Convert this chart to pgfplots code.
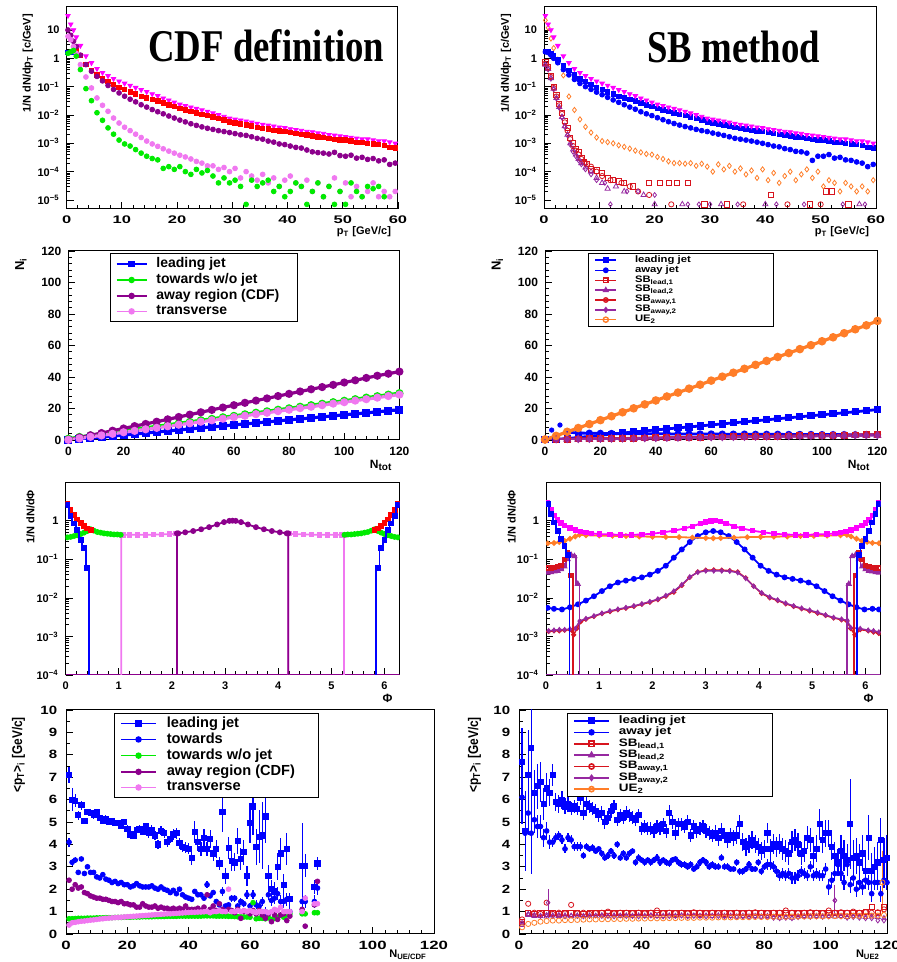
\documentclass[border=0pt]{standalone}
\usepackage{graphicx}
\usepackage{pgfplots}
\pgfplotsset{compat=1.18}
\usepackage{pgfplotstable}
\usepackage{fontspec}
\setmainfont{Liberation Sans}
\newfontfamily\timesf{Liberation Serif}
\newcommand{\tp}[1]{10\textsuperscript{−#1}}
\newcommand{\hs}[2]{\scalebox{#1}[1]{#2}}
\definecolor{cmag}{RGB}{255,0,255}
\definecolor{cred}{RGB}{255,0,0}
\definecolor{cblu}{RGB}{0,0,255}
\definecolor{cgrn}{RGB}{0,235,0}
\definecolor{cpur}{RGB}{140,0,140}
\definecolor{cpnk}{RGB}{240,120,240}
\definecolor{corg}{RGB}{255,125,40}
\definecolor{csbr}{RGB}{215,20,30}
\definecolor{csbp}{RGB}{150,40,160}
\pgfplotsset{rt/.style={scale only axis, anchor=south west,
  axis line style={black,line width=0.5pt}, tick align=inside, tick pos=left,
  major tick length=3.5pt, minor tick length=1.8pt,
  every tick/.append style={black,line width=0.35pt},
  /pgf/number format/assume math mode=true,
  tick label style={font=\fontsize{5.5}{6}\selectfont\bfseries},
  every axis x label/.style={at={(rel axis cs:1,0)}, anchor=north east, font=\fontsize{5.5}{6}\selectfont\bfseries},
  every axis y label/.style={at={(rel axis cs:-0.08,1)}, anchor=south east, rotate=90, font=\fontsize{5.5}{6}\selectfont\bfseries},
  legend cell align=left,
}}

\pgfplotstableread{
x mag red pur pnk grn blu
0.25 32 nan 10 6 1.5 1.65
0.75 16 nan 6.5 4.5 1.7 1.65
1.25 10 nan 4.0 2.6 1.9 1.6
1.75 5.6 1.9 2.6 1.5 1.2 nan
2.5 2.8 1.3 1.3 0.6 0.4 nan
3.5 1.2 0.62 0.6 0.22 0.085 nan
4.5 0.69 0.38 0.35 0.09 0.032 nan
5.5 0.43 0.26 0.23 0.04 0.012 nan
6.5 0.31 0.19 0.16 0.022 0.0065 nan
7.5 0.24 0.15 0.11 0.0135 0.0035 nan
8.5 0.19 0.12 0.08 0.0078 0.0021 nan
9.5 0.155 0.095 0.06 0.0052 0.0013 nan
10.5 0.13 0.08 0.046 0.0037 0.00095 nan
11.5 0.11 0.066 0.036 0.0028 0.0008 nan
12.5 0.092 0.055 0.029 0.0021 0.0006 nan
13.5 0.077 0.046 0.023 0.0016 0.00045 nan
14.5 0.066 0.04 0.019 0.0012 0.00035 nan
15.5 0.055 0.035 0.0155 0.00095 0.00029 nan
16.5 0.047 0.031 0.013 0.00078 0.00026 nan
17.5 0.039 0.027 0.011 0.00064 0.00013 nan
18.5 0.033 0.023 0.0092 0.00053 0.00015 nan
19.5 0.028 0.02 0.0078 0.00045 0.00012 nan
20.5 0.0236 0.017 0.0066 0.00038 0.00015 nan
21.5 0.021 0.015 0.0057 0.00033 0.0001 nan
22.5 0.0187 0.0135 0.0049 0.00028 0.00008 nan
23.5 0.0167 0.012 0.0043 0.00023 0.00012 nan
24.5 0.0149 0.0107 0.0038 0.0002 0.00009 nan
25.5 0.0133 0.0097 0.0034 0.00016 0.00011 nan
26.5 0.0116 0.0086 0.0031 0.00016 0.00007 nan
27.5 0.0101 0.0076 0.0028 0.00012 0.00004 nan
28.5 0.0088 0.0066 0.0026 0.00014 0.00006 nan
29.5 0.0076 0.0057 0.0024 0.0001 0.00004 nan
30.5 0.007 0.0052 0.0022 0.00013 0.00005 nan
31.5 0.0065 0.0048 0.002 0.00006 0.00003 nan
32.5 0.006 0.0044 0.0019 0.0001 0.000007 nan
33.5 0.0055 0.0041 0.0017 0.00007 0.00005 nan
34.5 0.005 0.0037 0.0015 0.00005 0.00003 nan
35.5 0.0046 0.0034 0.0014 0.00008 0.00004 nan
36.5 0.0043 0.0032 0.0012 0.00004 0.00005 nan
37.5 0.004 0.0029 0.0011 0.00006 0.00002 nan
38.5 0.0037 0.0027 0.00095 0.00003 0.00003 nan
39.5 0.0035 0.0026 0.0009 0.00005 0.000013 nan
40.5 0.0032 0.0024 0.0008 0.00007 0.00002 nan
41.5 0.003 0.0022 0.00072 0.00004 0.00004 nan
42.5 0.0028 0.0021 0.00068 0.00003 0.00003 nan
43.5 0.0026 0.002 0.00058 0.00005 0.000007 nan
44.5 0.0025 0.0018 0.0005 0.00002 0.00002 nan
45.5 0.0023 0.0017 0.00047 0.00004 0.00004 nan
46.5 0.0022 0.0016 0.00045 0.000013 0.000013 nan
47.5 0.002 0.0015 0.00042 0.00003 0.00003 nan
48.5 0.0019 0.0014 0.00048 0.00006 0.000007 nan
49.5 0.0018 0.0013 0.00037 0.00002 0.00002 nan
50.5 0.0017 0.0013 0.00035 0.00004 0.000007 nan
51.5 0.0016 0.0012 0.00038 0.000013 0.00004 nan
52.5 0.0015 0.0011 0.0003 0.00003 0.00002 nan
53.5 0.0014 0.0011 0.00032 0.000013 0.000013 nan
54.5 0.0014 0.001 0.00027 0.00002 0.00003 nan
55.5 0.0013 0.00095 0.00029 0.00004 0.000025 nan
56.5 0.0012 0.0009 0.00024 0.000013 0.00003 nan
57.5 0.0012 0.00085 0.00026 0.00002 0.000013 nan
58.5 0.0011 0.0007 0.00018 0.000013 nan nan
59.5 0.001 0.00068 0.0002 0.00002 nan nan
}\Pone

\pgfplotstableread{
x mag bla blb org
0.25 32 1.75 1.7 22
0.75 16 1.8 1.6 12
1.25 10 1.5 1.3 5
1.75 5.6 1.2 1.0 2.3
2.5 2.8 0.9 0.7 0.9
3.5 1.2 0.55 0.4 0.25
4.5 0.69 0.37 0.26 0.045
5.5 0.43 0.26 0.18 0.015
6.5 0.31 0.19 0.13 0.007
7.5 0.24 0.15 0.1 0.0038
8.5 0.19 0.12 0.08 0.0024
9.5 0.155 0.095 0.064 0.0016
10.5 0.13 0.08 0.052 0.0012
11.5 0.11 0.066 0.042 0.0011
12.5 0.092 0.055 0.034 0.001
13.5 0.077 0.046 0.028 0.00085
14.5 0.066 0.04 0.023 0.00075
15.5 0.055 0.035 0.019 0.00065
16.5 0.047 0.031 0.016 0.00055
17.5 0.039 0.027 0.013 0.00048
18.5 0.033 0.023 0.011 0.00042
19.5 0.028 0.02 0.0095 0.0004
20.5 0.0236 0.017 0.008 0.00033
21.5 0.021 0.015 0.0068 0.00028
22.5 0.0187 0.0135 0.0058 0.00023
23.5 0.0167 0.012 0.005 0.0002
24.5 0.0149 0.0107 0.0044 0.0002
25.5 0.0133 0.0097 0.0039 0.00019
26.5 0.0116 0.0086 0.0035 0.0002
27.5 0.0101 0.0076 0.0031 0.00016
28.5 0.0088 0.0066 0.0028 0.00019
29.5 0.0076 0.0057 0.0026 0.00015
30.5 0.007 0.0052 0.0023 0.0001
31.5 0.0065 0.0048 0.0021 0.00018
32.5 0.006 0.0044 0.0019 0.00012
33.5 0.0055 0.0041 0.0017 0.00016
34.5 0.005 0.0037 0.0015 0.0001
35.5 0.0046 0.0034 0.0014 0.00013
36.5 0.0043 0.0032 0.0013 0.00008
37.5 0.004 0.0029 0.0012 0.00011
38.5 0.0037 0.0027 0.0011 0.00006
39.5 0.0035 0.0026 0.001 0.00012
40.5 0.0032 0.0024 0.0009 0.00005
41.5 0.003 0.0022 0.0008 0.00009
42.5 0.0028 0.0021 0.00075 0.00004
43.5 0.0026 0.002 0.00065 0.00007
44.5 0.0025 0.0018 0.0006 0.0001
45.5 0.0023 0.0017 0.00052 0.00005
46.5 0.0022 0.0016 0.0005 0.00008
47.5 0.002 0.0015 0.00045 0.00012
48.5 0.0019 0.0014 0.00025 0.00006
49.5 0.0018 0.0013 0.00035 0.0001
50.5 0.0017 0.0013 0.00035 0.00003
51.5 0.0016 0.0012 0.0004 0.00005
52.5 0.0015 0.0011 0.0003 0.00004
53.5 0.0014 0.0011 0.00032 0.00002
54.5 0.0014 0.001 0.00026 0.00004
55.5 0.0013 0.00095 0.00025 0.00003
56.5 0.0012 0.0009 0.00022 0.00002
57.5 0.0012 0.00085 0.0002 0.00003
58.5 0.0011 0.0007 0.00015 0.00002
59.5 0.001 0.00068 0.00018 0.00005
}\Ptwo

\pgfplotstableread{
x y
0.25 0.72
0.75 0.5
1.25 0.24
1.75 0.1
2.25 0.05
2.75 0.024
3.25 0.012
3.75 0.0062
4.25 0.0034
4.75 0.0016
5.25 0.001
5.75 0.00065
6.25 0.00048
6.75 0.0003
7.25 0.00022
7.75 0.00019
8.5 0.00012
9.5 0.00011
10.5 0.00009
11.5 0.00006
12.5 0.00005
13.5 0.000045
14.5 0.00004
16 0.00003
19 0.00004
21 0.00004
22.5 0.00004
24 0.00004
26 0.00004
29 0.000007
33 0.000007
41 0.000015
48 0.000007
51 0.00002
52 0.00002
55 0.000007
}\SBa
\pgfplotstableread{
x y
0.25 0.6
0.75 0.42
1.25 0.2
1.75 0.085
2.25 0.04
2.75 0.019
3.25 0.0085
3.75 0.004
4.25 0.002
4.75 0.001
5.25 0.0006
5.75 0.0004
6.25 0.00028
6.75 0.0002
7.5 0.00014
8.5 0.0001
9.5 0.00006
10.5 0.00004
11.5 0.000025
13 0.00003
14.5 0.00002
18 0.000015
20 0.000007
25 0.000007
32 0.000007
40 0.000007
57 0.000007
}\SBb
\pgfplotstableread{
x y
0.25 0.65
0.75 0.45
1.25 0.22
1.75 0.09
2.25 0.045
2.75 0.022
3.25 0.011
3.75 0.0055
4.25 0.0028
4.75 0.0014
5.25 0.0008
5.75 0.00055
6.25 0.0004
6.75 0.00028
7.5 0.0002
8.5 0.00015
9.5 0.0001
10.5 0.00007
12 0.00005
14 0.00004
15.5 0.00003
17 0.00002
19 0.000015
23 0.000007
36 0.000007
44 0.000007
50 0.000007
}\SBc
\pgfplotstableread{
x y
0.25 0.58
0.75 0.4
1.25 0.19
1.75 0.08
2.25 0.038
2.75 0.018
3.25 0.008
3.75 0.0038
4.25 0.0019
4.75 0.0009
5.25 0.0005
5.75 0.00035
6.25 0.00025
6.75 0.00018
7.5 0.00012
8.5 0.00008
9.5 0.00005
11 0.00004
12 0.000007
15 0.00002
17 0.00002
20 0.000015
26 0.000007
28 0.000007
30 0.000007
35 0.000007
42 0.000007
47 0.000007
54 0.000007
58 0.000007
}\SBd

\pgfplotstableread{
x blu grn pur pnk
0 0.1 0.8 0.2 0.1
4 0.6 1.9 1.6 1.0
8 1.2 2.9 3.0 2.0
12 1.8 3.9 4.4 2.9
16 2.5 4.8 5.9 3.9
20 3.1 5.8 7.3 4.9
24 3.8 6.8 8.8 5.8
28 4.4 7.7 10.2 6.8
32 5.1 8.7 11.6 7.7
36 5.7 9.6 13.1 8.7
40 6.4 10.6 14.6 9.7
44 7.0 11.5 16.1 10.6
48 7.7 12.5 17.6 11.6
52 8.3 13.4 19.1 12.5
56 8.9 14.4 20.6 13.5
60 9.6 15.3 22.1 14.5
64 10.2 16.3 23.6 15.4
68 10.8 17.3 25.0 16.4
72 11.5 18.2 26.4 17.3
76 12.1 19.2 27.9 18.3
80 12.8 20.1 29.3 19.2
84 13.4 21.1 30.8 20.2
88 14.0 22.1 32.2 21.1
92 14.7 23.0 33.6 22.1
96 15.3 24.0 35.0 23.1
100 16.0 24.9 36.5 24.0
104 16.6 25.9 37.9 25.0
108 17.2 26.9 39.4 25.9
112 17.9 27.8 40.8 26.9
116 18.6 28.8 42.1 27.9
120 19.2 29.7 43.4 28.8
}\Pthree

\pgfplotstableread{
x lj aj sa sb sc sd ue
0 0.1 nan 0.2 0.15 0.25 0.2 0.3
4 0.4 nan 0.45 0.35 0.5 0.4 2.6
8 0.9 5.0 0.55 0.45 0.6 0.5 5.2
12 1.6 4.4 0.65 0.55 0.7 0.55 7.6
16 2.3 4.3 0.75 0.6 0.8 0.65 10.1
20 3.0 4.2 0.85 0.7 0.9 0.75 12.6
24 3.7 4.1 0.95 0.8 1.0 0.8 15.1
28 4.4 4.0 1.05 0.9 1.1 0.9 17.6
32 5.1 4.0 1.15 1.0 1.2 1.0 20.1
36 5.7 3.9 1.25 1.05 1.3 1.1 22.6
40 6.4 3.9 1.35 1.15 1.4 1.2 25.1
44 7.0 3.9 1.45 1.25 1.5 1.3 27.6
48 7.7 3.8 1.55 1.35 1.6 1.4 30.1
52 8.3 3.8 1.65 1.45 1.7 1.5 32.6
56 8.9 3.8 1.75 1.55 1.8 1.6 35.1
60 9.6 3.8 1.85 1.6 1.9 1.7 37.7
64 10.2 3.7 1.95 1.7 2.0 1.8 40.2
68 10.9 3.7 2.05 1.8 2.1 1.9 42.7
72 11.5 3.7 2.15 1.9 2.2 1.95 45.2
76 12.2 3.6 2.25 2.0 2.3 2.05 47.7
80 12.8 3.6 2.35 2.1 2.4 2.15 50.2
84 13.5 3.6 2.45 2.2 2.5 2.25 52.7
88 14.1 3.5 2.55 2.3 2.6 2.35 55.2
92 14.7 3.5 2.65 2.35 2.7 2.4 57.7
96 15.4 3.5 2.75 2.45 2.8 2.5 60.2
100 16.0 3.4 2.85 2.55 2.9 2.6 62.7
104 16.6 3.4 2.95 2.65 3.0 2.7 65.2
108 17.3 3.4 3.05 2.75 3.1 2.8 67.8
112 17.9 3.3 3.15 2.85 3.2 2.9 70.3
116 18.6 3.3 3.25 2.95 3.3 3.0 72.8
120 19.3 3.3 3.35 3.05 3.4 3.1 75.6
}\Pfour

\pgfplotstableread{
x lj elj tw etw gr aw tr
1 7.1 0.35 4.1 0.2 0.68 2.4 0.4
2 6.0 0.5 3.2 0.15 0.68 2.0 0.5
3 5.95 0.3 3.3 0.12 0.69 2.2 0.52
4 5.3 0.2 2.75 0.1 0.7 2.05 0.55
5 5.75 0.2 3.35 0.1 0.7 2.1 0.57
6 5.05 0.15 2.7 0.08 0.7 1.85 0.58
7 5.45 0.15 3.0 0.08 0.71 1.8 0.6
8 5.4 0.15 2.75 0.07 0.71 1.7 0.62
9 5.3 0.15 2.75 0.07 0.71 1.65 0.63
10 5.45 0.15 2.55 0.07 0.72 1.6 0.65
11 5.2 0.15 2.5 0.07 0.72 1.6 0.67
12 5.05 0.15 2.65 0.07 0.72 1.55 0.68
13 5.15 0.15 2.45 0.07 0.73 1.55 0.7
14 5.0 0.15 2.4 0.07 0.73 1.5 0.71
15 5.05 0.15 2.3 0.07 0.73 1.45 0.72
16 4.95 0.15 2.35 0.07 0.74 1.45 0.73
17 4.95 0.15 2.25 0.07 0.74 1.4 0.74
18 4.85 0.15 2.3 0.07 0.74 1.45 0.75
19 5.0 0.15 2.2 0.07 0.75 1.35 0.76
20 4.7 0.15 2.2 0.07 0.75 1.35 0.77
21 4.45 0.15 2.1 0.07 0.75 1.3 0.78
22 4.4 0.15 2.15 0.07 0.76 1.3 0.79
23 4.65 0.15 2.25 0.07 0.76 1.2 0.8
24 4.7 0.15 2.15 0.07 0.76 1.2 0.81
25 4.55 0.15 2.1 0.07 0.77 1.35 0.82
26 4.8 0.15 2.1 0.07 0.77 1.25 0.83
27 4.5 0.2 2.1 0.07 0.77 1.2 0.84
28 4.65 0.2 2.15 0.07 0.77 1.2 0.85
29 4.4 0.2 2.05 0.07 0.78 1.25 0.86
30 4.0 0.2 2.0 0.07 0.78 1.15 0.87
31 4.6 0.2 2.1 0.07 0.78 1.2 0.88
32 4.5 0.2 2.0 0.07 0.78 1.15 0.89
33 4.1 0.2 1.95 0.07 0.79 1.15 0.9
34 4.25 0.2 1.85 0.07 0.79 1.1 0.9
35 4.45 0.25 1.95 0.07 0.79 1.15 0.91
36 4.5 0.25 1.8 0.07 0.79 1.1 0.92
37 4.05 0.25 2.0 0.08 0.8 1.15 0.93
38 3.9 0.25 1.75 0.08 0.8 1.1 0.94
39 3.85 0.25 1.65 0.08 0.8 1.25 0.95
40 3.8 0.25 1.6 0.08 0.8 1.1 0.96
41 3.4 0.3 1.55 0.08 0.8 1.1 0.97
42 4.55 0.5 1.9 0.1 0.8 1.1 0.97
43 4.1 0.4 1.75 0.1 0.8 1.15 0.98
44 3.8 0.3 1.75 0.1 0.8 1.05 0.98
45 4.3 0.4 1.6 0.1 0.81 1.2 0.99
46 3.8 0.3 2.2 0.15 0.81 1.75 1.0
47 4.25 0.4 1.7 0.1 0.81 1.1 0.95
48 3.6 0.35 1.85 0.12 0.81 1.25 1.0
49 3.8 0.4 1.45 0.1 0.8 1.05 1.0
50 3.15 0.3 1.3 0.1 0.8 1.35 1.05
51 5.45 0.9 1.9 0.2 0.8 1.1 1.0
52 2.6 0.35 1.25 0.1 0.8 1.0 1.0
53 3.85 0.5 1.3 0.15 0.79 1.1 2.0
54 3.25 0.45 1.6 0.15 0.79 1.05 1.0
55 3.2 0.4 1.6 0.15 0.78 0.95 1.0
56 4.15 0.6 1.25 0.15 0.77 1.1 1.05
57 3.35 0.5 1.45 0.15 0.77 0.7 1.0
58 3.65 0.55 1.35 0.15 0.76 1.0 1.05
59 2.6 0.45 1.75 0.2 0.76 1.0 1.0
60 4.95 0.9 1.25 0.15 0.75 0.9 1.05
61 5.7 1.3 1.75 0.2 1.4 1.05 1.0
62 3.9 0.8 1.3 0.2 0.68 0.9 0.95
63 4.35 1.2 1.25 0.2 0.7 1.05 1.0
64 4.4 1.5 1.45 0.2 0.7 0.85 1.0
65 5.25 1.2 1.0 0.2 0.68 0.7 1.0
66 2.6 0.5 1.75 0.25 0.72 0.9 0.95
67 2.0 0.4 1.5 0.25 0.65 0.55 1.0
68 1.9 0.4 1.6 0.25 0.7 0.85 1.1
69 3.0 0.6 1.8 0.3 0.75 0.65 1.05
70 3.6 0.7 1.45 0.3 0.85 0.85 1.2
71 2.2 0.5 1.45 0.3 0.75 0.9 1.0
72 3.8 0.7 1.55 0.3 0.85 0.6 1.0
73 1.55 0.3 1.0 0.3 0.9 0.8 1.0
77 3.05 1.9 1.45 0.3 0.9 1.1 1.0
78 3.05 0.5 1.45 0.3 0.9 0.35 1.6
81 2.1 0.3 1.45 0.3 0.95 1.3 1.35
82 3.15 0.3 2.05 0.3 0.95 2.35 1.35
}\Pseven

\pgfplotstableread{
x lj elj aj eaj
1 7.7 1.5 6.1 1.2
2 4.6 1.8 4.5 1.0
3 7.1 2.0 5.4 1.0
4 8.3 2.2 4.5 1.8
5 6.3 1.0 5.1 0.6
6 6.6 1.0 4.8 0.5
7 6.8 0.9 4.8 0.5
8 5.8 0.7 4.3 0.4
9 6.5 0.7 4.6 0.4
10 6.3 0.6 4.1 0.3
11 7.1 0.5 4.1 0.2
12 5.9 0.4 4.3 0.2
13 5.8 0.4 4.4 0.2
14 6.0 0.4 4.2 0.2
15 5.7 0.35 3.8 0.2
16 5.8 0.35 4.3 0.2
17 5.6 0.3 4.2 0.2
18 5.7 0.3 3.9 0.2
19 5.6 0.3 3.9 0.2
20 6.1 0.35 3.9 0.2
21 5.4 0.3 3.5 0.15
22 5.8 0.3 3.9 0.15
23 5.7 0.3 3.8 0.15
24 5.6 0.3 3.85 0.15
25 5.5 0.3 3.7 0.15
26 5.3 0.3 3.8 0.15
27 5.4 0.3 3.6 0.15
28 5.0 0.3 3.4 0.15
29 5.2 0.3 3.5 0.15
30 5.5 0.3 3.7 0.15
31 5.7 0.3 3.5 0.15
32 5.1 0.3 4.0 0.15
33 5.3 0.3 3.4 0.15
34 5.2 0.3 3.6 0.15
35 5.4 0.3 3.4 0.15
36 5.3 0.3 3.6 0.15
37 5.2 0.3 3.7 0.15
38 5.1 0.3 3.2 0.15
39 5.3 0.3 3.4 0.15
40 4.7 0.3 3.3 0.15
41 4.8 0.3 3.2 0.15
42 4.7 0.3 3.3 0.15
43 4.7 0.3 3.2 0.15
44 4.6 0.3 3.3 0.15
45 4.8 0.3 3.4 0.15
46 4.7 0.3 3.2 0.15
47 4.9 0.3 3.3 0.15
48 4.6 0.3 3.2 0.15
49 5.4 0.35 3.15 0.15
50 5.0 0.3 3.3 0.15
51 4.5 0.3 3.35 0.15
52 4.9 0.3 3.2 0.15
53 4.9 0.3 3.1 0.15
54 4.8 0.3 3.1 0.15
55 5.0 0.3 3.0 0.15
56 4.4 0.3 3.1 0.15
57 4.8 0.3 2.9 0.15
58 4.6 0.3 3.0 0.15
59 4.7 0.3 3.2 0.15
60 4.8 0.3 3.3 0.15
61 4.6 0.3 3.2 0.15
62 4.5 0.3 3.0 0.15
63 4.4 0.3 3.1 0.15
64 4.5 0.35 3.0 0.15
65 4.3 0.35 3.0 0.15
66 4.6 0.35 3.4 0.15
67 4.4 0.35 3.0 0.15
68 4.2 0.35 3.0 0.15
69 4.4 0.35 2.9 0.15
70 4.3 0.35 2.9 0.15
71 4.4 0.4 3.2 0.15
72 4.9 0.4 2.8 0.15
73 4.1 0.4 2.8 0.15
74 3.9 0.4 2.9 0.15
75 4.0 0.4 3.1 0.15
76 4.2 0.4 2.9 0.15
77 4.0 0.4 2.9 0.15
78 3.9 0.4 3.2 0.15
79 3.7 0.4 2.8 0.15
80 3.8 0.4 3.0 0.15
81 4.5 0.45 3.1 0.25
82 3.8 0.45 3.1 0.25
83 4.0 0.45 3.0 0.25
84 3.9 0.45 2.8 0.25
85 4.0 0.45 2.6 0.25
86 3.8 0.5 2.7 0.25
87 3.7 0.5 2.6 0.25
88 3.6 0.5 2.7 0.25
89 4.1 0.5 2.5 0.25
90 4.2 0.5 2.5 0.25
91 4.0 0.5 2.6 0.25
92 3.6 0.5 2.8 0.25
93 3.7 0.5 2.7 0.25
94 4.3 0.5 2.6 0.25
95 4.2 0.55 3.0 0.25
96 3.5 0.55 2.6 0.25
97 3.8 0.6 2.7 0.25
98 4.9 0.7 2.6 0.25
99 4.2 0.6 2.6 0.25
100 4.5 0.6 2.9 0.25
101 4.5 0.6 2.1 0.35
102 3.9 0.6 2.4 0.35
103 3.5 0.6 2.7 0.35
104 3.2 0.6 3.1 0.35
105 3.7 0.7 2.7 0.35
106 3.5 0.7 2.3 0.35
107 3.3 0.7 3.1 0.35
108 4.9 2.0 2.2 0.35
109 3.4 0.8 2.5 0.35
110 3.5 0.8 2.0 0.35
111 3.2 0.8 2.3 0.35
112 3.6 0.8 2.1 0.35
113 2.8 0.8 2.4 0.35
114 4.3 1.0 2.3 0.35
115 2.8 0.8 1.8 0.35
116 3.0 0.9 2.3 0.35
117 3.2 0.9 2.3 0.35
118 4.2 1.0 1.8 0.35
119 3.3 1.0 2.4 0.35
120 3.4 1.0 2.3 0.35
}\Peight

\pgfplotstableread{
x sa sb sc sd ue
1 0.55 0.4 0.65 0.5 0.3
3 0.95 0.85 1.35 0.9 0.45
5 0.9 0.8 0.95 0.85 0.5
7 0.95 0.8 0.9 0.8 0.55
9 0.92 0.78 1.4 0.85 0.58
11 0.95 0.82 0.9 0.8 0.6
13 0.9 0.8 0.95 0.85 0.6
15 0.95 0.82 0.92 0.78 0.62
17 0.92 0.8 1.3 0.82 0.62
19 0.95 0.82 0.92 0.8 0.63
21 0.9 0.8 0.95 0.78 0.64
23 0.93 0.82 0.9 0.8 0.65
25 0.95 0.8 0.93 0.82 0.65
27 0.92 0.83 0.95 0.8 0.66
29 0.95 0.8 1.0 0.8 0.66
31 0.93 0.82 0.92 0.78 0.67
33 0.95 0.8 0.95 0.82 0.67
35 0.92 0.82 0.95 0.8 0.68
37 0.95 0.8 0.93 0.8 0.68
39 0.93 0.82 0.95 0.78 0.69
41 0.95 0.8 0.92 0.8 0.69
43 0.92 0.82 0.95 0.82 0.7
45 0.95 0.8 1.05 0.8 0.7
47 0.93 0.8 0.93 0.78 0.7
49 0.95 0.82 0.95 0.8 0.71
51 0.92 0.8 0.93 0.8 0.71
53 0.95 0.82 0.95 0.82 0.72
55 0.93 0.8 0.92 0.78 0.72
57 0.95 0.82 0.97 0.8 0.72
59 0.92 0.8 0.95 0.8 0.73
61 0.95 0.82 0.93 0.78 0.73
63 0.93 0.8 0.95 0.8 0.73
65 0.95 0.82 0.93 0.8 0.74
67 0.92 0.8 0.95 0.78 0.74
69 0.95 0.8 0.93 0.8 0.74
71 0.93 0.78 0.95 0.76 0.75
73 0.95 0.8 0.93 0.78 0.75
75 0.92 0.78 0.95 0.75 0.75
77 0.95 0.8 0.97 0.78 0.76
79 0.93 0.78 0.95 0.76 0.76
81 0.95 0.8 0.93 0.75 0.76
83 0.92 0.75 0.95 0.72 0.77
85 0.95 0.72 0.95 0.7 0.77
87 0.93 0.75 1.05 0.72 0.77
89 0.95 0.72 0.95 0.7 0.78
91 0.92 0.78 0.93 0.75 0.78
93 0.95 0.8 0.95 0.78 0.78
95 0.93 0.78 0.97 0.76 0.79
97 0.95 0.8 0.95 0.78 0.79
99 0.93 0.78 0.93 0.76 0.79
101 0.95 0.8 1.05 0.78 0.8
103 0.93 0.78 0.95 1.5 0.8
105 0.95 0.8 0.97 0.78 0.8
107 0.92 0.75 0.95 0.72 0.8
109 0.95 0.8 1.0 0.75 0.81
111 0.93 0.78 0.95 0.72 0.81
113 1.0 0.75 0.97 0.7 0.81
115 1.2 0.78 0.95 0.7 0.82
117 0.95 0.75 0.97 0.6 0.82
119 1.2 0.7 1.1 0.6 0.85
}\PeightSB

\begin{document}
\begin{tikzpicture}
\path[use as bounding box] (0,0) rectangle (448.5pt,481pt);

% ---------- Panel 1 ----------
\begin{axis}[rt, at={(33.3pt,376.5pt)}, width=165.7pt, height=101pt,
  xmin=0, xmax=60, ymode=log, ymin=4.8e-6, ymax=65,
  xtick={0,10,...,60}, minor x tick num=4,
  ytick={1e-5,1e-4,1e-3,1e-2,1e-1,1,10},
  yticklabels={\tp{5},\tp{4},\tp{3},\tp{2},\tp{1},1,10},
  xticklabel style={xscale=1.5},
  xlabel={p\textsubscript{T} [GeV/c]}, xlabel style={yshift=-5pt},
  ylabel={1/N dN/dp\textsubscript{T} [c/GeV]}, ylabel style={at={(rel axis cs:-0.08,1)}}]
\addplot[only marks, cmag, mark=triangle*, mark size=1.3pt, mark options={rotate=180}] table[x=x,y=mag]{\Pone};
\addplot[only marks, cblu, mark=square*, mark size=1.1pt] table[x=x,y=blu]{\Pone};
\addplot[only marks, cred, mark=square*, mark size=1.1pt] table[x=x,y=red]{\Pone};
\addplot[only marks, cpur, mark=*, mark size=1.2pt] table[x=x,y=pur]{\Pone};
\addplot[only marks, cpnk, mark=*, mark size=1.2pt] table[x=x,y=pnk]{\Pone};
\addplot[only marks, cgrn, mark=*, mark size=1.2pt] table[x=x,y=grn]{\Pone};
\end{axis}

% ---------- Panel 2 ----------
\begin{axis}[rt, at={(272pt,376.5pt)}, width=166pt, height=101pt,
  xmin=0, xmax=60, ymode=log, ymin=4.8e-6, ymax=65,
  xtick={0,10,...,60}, minor x tick num=4,
  ytick={1e-5,1e-4,1e-3,1e-2,1e-1,1,10},
  yticklabels={\tp{5},\tp{4},\tp{3},\tp{2},\tp{1},1,10},
  xticklabel style={xscale=1.5},
  xlabel={p\textsubscript{T} [GeV/c]}, xlabel style={yshift=-5pt},
  ylabel={1/N dN/dp\textsubscript{T} [c/GeV]}, ylabel style={at={(rel axis cs:-0.078,1)}}]
\addplot[only marks, csbr, mark=square, mark size=1.3pt] table[x=x,y=y]{\SBa};
\addplot[only marks, csbp, mark=triangle, mark size=1.5pt] table[x=x,y=y]{\SBb};
\addplot[only marks, csbr, mark=o, mark size=1.3pt] table[x=x,y=y]{\SBc};
\addplot[only marks, csbp, mark=diamond, mark size=1.2pt] table[x=x,y=y]{\SBd};
\addplot[only marks, corg, mark=diamond, mark size=1.3pt] table[x=x,y=org]{\Ptwo};
\addplot[only marks, cblu, mark=*, mark size=1.2pt] table[x=x,y=blb]{\Ptwo};
\addplot[only marks, cblu, mark=square*, mark size=1.1pt] table[x=x,y=bla]{\Ptwo};
\addplot[only marks, cmag, mark=triangle*, mark size=1.3pt, mark options={rotate=180}] table[x=x,y=mag]{\Ptwo};
\end{axis}

\node[anchor=base west, inner sep=0, xscale=0.81, font=\timesf\bfseries\fontsize{22.7}{24}\selectfont] at (74pt,450pt) {CDF definition};
\node[anchor=base west, inner sep=0, xscale=0.81, font=\timesf\bfseries\fontsize{22.7}{24}\selectfont] at (323.5pt,449.5pt) {SB method};

% ---------- Panel 3 ----------
\begin{axis}[rt, at={(34.2pt,261pt)}, width=165.5pt, height=94.5pt,
  xmin=0, xmax=120, ymin=0, ymax=120,
  xtick={0,20,...,120}, ytick={0,20,...,120}, minor x tick num=4, minor y tick num=4,
  tick label style={font=\fontsize{6}{6.5}\selectfont\bfseries},
  xlabel={N\textsubscript{tot}}, xlabel style={yshift=-6.5pt, font=\fontsize{6}{6.5}\selectfont\bfseries},
  ylabel={N\textsubscript{i}}, ylabel style={at={(rel axis cs:-0.105,1)}, font=\fontsize{6.5}{7}\selectfont\bfseries},
  legend image code/.code={\draw[mark repeat=2,mark phase=2,#1,sharp plot,line width=0.8pt] plot coordinates {(0pt,0pt) (7.5pt,0pt) (15pt,0pt)};},
  legend style={at={(rel axis cs:0.127,0.99)}, anchor=north west, font=\fontsize{7}{7.5}\selectfont\bfseries, draw=black, fill=white, inner xsep=2.5pt, inner ysep=1.5pt, row sep=0.2pt, nodes={inner ysep=0.6pt}, /tikz/every odd column/.append style={column sep=2.5pt}}]
\addplot[cblu, line width=1.6pt, mark=square*, mark size=1.2pt] table[x=x,y=blu]{\Pthree};
\addlegendentry{\makebox[66pt][l]{leading jet}}
\addplot[cgrn, line width=1.6pt, mark=*, mark size=1.2pt] table[x=x,y=grn]{\Pthree};
\addlegendentry{towards w/o jet}
\addplot[cpur, line width=1.6pt, mark=*, mark size=1.2pt] table[x=x,y=pur]{\Pthree};
\addlegendentry{away region (CDF)}
\addplot[cpnk, line width=1.6pt, mark=*, mark size=1.2pt] table[x=x,y=pnk]{\Pthree};
\addlegendentry{transverse}
\end{axis}

% ---------- Panel 4 ----------
\begin{axis}[rt, at={(272.5pt,261pt)}, width=166.2pt, height=94.5pt,
  xmin=0, xmax=120, ymin=0, ymax=120,
  xtick={0,20,...,120}, ytick={0,20,...,120}, minor x tick num=4, minor y tick num=4,
  tick label style={font=\fontsize{6}{6.5}\selectfont\bfseries},
  xlabel={N\textsubscript{tot}}, xlabel style={yshift=-6.5pt, font=\fontsize{6}{6.5}\selectfont\bfseries},
  ylabel={N\textsubscript{i}}, ylabel style={at={(rel axis cs:-0.105,1)}, font=\fontsize{6.5}{7}\selectfont\bfseries},
  legend image code/.code={\draw[mark repeat=2,mark phase=2,#1,sharp plot,line width=0.7pt] plot coordinates {(0pt,0pt) (5.25pt,0pt) (10.5pt,0pt)};},
  legend style={at={(rel axis cs:0.13,0.99)}, anchor=north west, font=\fontsize{4.7}{4.7}\selectfont\bfseries, draw=black, fill=white, inner xsep=3pt, inner ysep=1pt, row sep=0.15pt, nodes={inner ysep=0pt}, /tikz/every odd column/.append style={column sep=7pt}}]
\addplot[cblu, line width=1.4pt, mark=square*, mark size=1.1pt] table[x=x,y=lj]{\Pfour};
\addlegendentry{\makebox[64pt][l]{\hs{1.2}{leading jet}}}
\addplot[cblu, line width=1.4pt, mark=*, mark size=1.1pt] table[x=x,y=aj]{\Pfour};
\addlegendentry{\hs{1.2}{away jet}}
\addplot[csbr, line width=1.2pt, mark=square, mark size=1.1pt] table[x=x,y=sa]{\Pfour};
\addlegendentry{\hs{1.2}{SB\textsubscript{lead,1}}}
\addplot[csbp, line width=1.2pt, mark=triangle, mark size=1.2pt] table[x=x,y=sb]{\Pfour};
\addlegendentry{\hs{1.2}{SB\textsubscript{lead,2}}}
\addplot[csbr, line width=1.2pt, mark=o, mark size=1.1pt] table[x=x,y=sc]{\Pfour};
\addlegendentry{\hs{1.2}{SB\textsubscript{away,1}}}
\addplot[csbp, line width=1.2pt, mark=diamond, mark size=1.1pt] table[x=x,y=sd]{\Pfour};
\addlegendentry{\hs{1.2}{SB\textsubscript{away,2}}}
\addplot[corg, line width=1.6pt, mark=o, mark size=1.3pt] table[x=x,y=ue]{\Pfour};
\addlegendentry{\hs{1.2}{UE\textsubscript{2}}}
\addplot[cblu, only marks, mark=*, mark size=1.1pt, forget plot, error bars/.cd, y dir=both, y explicit, error mark=none, error bar style={cblu,line width=0.6pt}] coordinates {(2.4,6.3) +- (0,0.8) (5.4,9.5) +- (0,1.3)};
\end{axis}

% ---------- Panel 5 ----------
\begin{axis}[rt, at={(32.8pt,143.5pt)}, width=167pt, height=96pt,
  xmin=0, xmax=6.2832, ymode=log, ymin=1e-4, ymax=9.5,
  xtick={0,1,...,6}, minor x tick num=4,
  ytick={1e-4,1e-3,1e-2,1e-1,1}, yticklabels={\tp{4},\tp{3},\tp{2},\tp{1},1},
  clip marker paths=true,
  xlabel={Φ}, xlabel style={yshift=-6pt, font=\fontsize{6}{6.5}\selectfont\bfseries},
  ylabel={1/N dN/dΦ}, ylabel style={at={(rel axis cs:-0.072,1)}}]
\addplot[cpur, line width=1pt, no marks] coordinates {(0,1e-4) (6.2832,1e-4)};
\addplot[cpnk, line width=0.9pt, mark=square*, mark size=0.9pt] coordinates {(1.047,1e-5)(1.047,0.43)(1.08,0.43)(1.2,0.43)(1.35,0.43)(1.5,0.43)(1.65,0.435)(1.8,0.44)(1.95,0.45)(2.07,0.46)(2.094,0.46)(2.094,1e-5)};
\addplot[cpnk, line width=0.9pt, mark=square*, mark size=0.9pt] coordinates {(4.189,1e-5)(4.189,0.46)(4.21,0.46)(4.33,0.45)(4.48,0.44)(4.63,0.435)(4.78,0.43)(4.93,0.43)(5.08,0.43)(5.2,0.43)(5.236,0.43)(5.236,1e-5)};
\addplot[cpur, line width=0.9pt, mark=*, mark size=1pt] coordinates {(2.094,1e-5)(2.094,0.47)(2.12,0.47)(2.25,0.5)(2.4,0.54)(2.55,0.6)(2.7,0.68)(2.85,0.8)(2.98,0.92)(3.08,0.99)(3.14,1.0)(3.2,0.99)(3.3,0.92)(3.43,0.8)(3.58,0.68)(3.73,0.6)(3.88,0.54)(4.03,0.5)(4.16,0.47)(4.189,0.47)(4.189,1e-5)};
\addplot[cgrn, line width=0.9pt, mark=*, mark size=1pt] coordinates {(0.031,0.37)(0.094,0.38)(0.157,0.4)(0.22,0.42)(0.283,0.45)(0.346,0.49)(0.408,0.54)(0.471,0.6)(0.534,0.55)(0.597,0.51)(0.66,0.49)(0.723,0.47)(0.785,0.46)(0.848,0.45)(0.911,0.44)(0.974,0.44)(1.037,0.43)};
\addplot[cgrn, line width=0.9pt, mark=*, mark size=1pt] coordinates {(5.246,0.43)(5.309,0.44)(5.372,0.44)(5.435,0.45)(5.498,0.46)(5.56,0.47)(5.623,0.49)(5.686,0.51)(5.749,0.55)(5.812,0.6)(5.875,0.54)(5.937,0.49)(6.0,0.45)(6.063,0.42)(6.126,0.4)(6.189,0.38)(6.252,0.37)};
\addplot[cred, line width=0.9pt, mark=square*, mark size=1pt] coordinates {(0.031,2.8)(0.094,1.9)(0.157,1.4)(0.22,1.08)(0.283,0.86)(0.346,0.72)(0.408,0.63)(0.471,0.58)};
\addplot[cred, line width=0.9pt, mark=square*, mark size=1pt] coordinates {(5.812,0.58)(5.875,0.63)(5.937,0.72)(6.0,0.86)(6.063,1.08)(6.126,1.4)(6.189,1.9)(6.252,2.8)};
\addplot[cblu, line width=0.9pt, const plot mark mid, mark=square*, mark size=1pt] coordinates {(0.031,2.5)(0.094,1.3)(0.157,0.85)(0.22,0.58)(0.283,0.32)(0.346,0.2)(0.408,0.06)(0.471,1e-5)};
\addplot[cblu, line width=0.9pt, const plot mark mid, mark=square*, mark size=1pt] coordinates {(5.812,1e-5)(5.875,0.06)(5.937,0.2)(6.0,0.32)(6.063,0.58)(6.126,0.85)(6.189,1.3)(6.252,2.5)};
\end{axis}

% ---------- Panel 6 ----------
\begin{axis}[rt, at={(273pt,143.5pt)}, width=167.3pt, height=96pt,
  xmin=0, xmax=6.2832, ymode=log, ymin=1e-4, ymax=9.5,
  xtick={0,1,...,6}, minor x tick num=4,
  ytick={1e-4,1e-3,1e-2,1e-1,1}, yticklabels={\tp{4},\tp{3},\tp{2},\tp{1},1},
  clip marker paths=true,
  xlabel={Φ}, xlabel style={yshift=-6pt, font=\fontsize{6}{6.5}\selectfont\bfseries},
  ylabel={1/N dN/dΦ}, ylabel style={at={(rel axis cs:-0.069,1)}}]
\addplot[csbp, line width=1pt, no marks] coordinates {(0,1e-4) (6.2832,1e-4)};
\addplot[csbr, line width=0.7pt, mark=o, mark size=0.9pt] coordinates {(0.05,1.35e-3)(0.15,1.4e-3)(0.25,1.4e-3)(0.35,1.45e-3)(0.45,1.5e-3)(0.52,1.1e-3)(0.58,1.6e-3)(0.65,2.4e-3)(0.75,2.8e-3)(0.9,3.3e-3)(1.05,3.9e-3)(1.2,4.4e-3)(1.35,4.9e-3)(1.5,5.4e-3)(1.65,6e-3)(1.8,6.8e-3)(1.95,7.7e-3)(2.1,9e-3)(2.25,0.011)(2.4,0.014)(2.55,0.021)(2.7,0.034)(2.85,0.047)(3.0,0.052)(3.15,0.053)(3.3,0.052)(3.45,0.051)(3.6,0.047)(3.75,0.033)(3.9,0.02)(4.05,0.013)(4.2,0.01)(4.35,8.5e-3)(4.5,7e-3)(4.65,6e-3)(4.8,5.2e-3)(4.95,4.6e-3)(5.1,4e-3)(5.25,3.5e-3)(5.4,3e-3)(5.55,2.7e-3)(5.65,2.5e-3)(5.72,1.6e-3)(5.8,1.1e-3)(5.9,1.5e-3)(6.05,1.4e-3)(6.15,1.3e-3)(6.25,1.2e-3)};
\addplot[csbp, line width=0.7pt, mark=diamond, mark size=0.9pt] coordinates {(0.05,1.4e-3)(0.15,1.45e-3)(0.25,1.5e-3)(0.35,1.5e-3)(0.45,1.55e-3)(0.55,1.6e-3)(0.63,2.5e-3)(0.75,2.9e-3)(0.9,3.4e-3)(1.05,4e-3)(1.2,4.6e-3)(1.35,5.1e-3)(1.5,5.6e-3)(1.65,6.2e-3)(1.8,7e-3)(1.95,8e-3)(2.1,9.3e-3)(2.25,0.0115)(2.4,0.015)(2.55,0.022)(2.7,0.035)(2.85,0.046)(3.0,0.05)(3.15,0.05)(3.3,0.05)(3.45,0.049)(3.6,0.045)(3.75,0.032)(3.9,0.02)(4.05,0.0135)(4.2,0.0105)(4.35,8.8e-3)(4.5,7.3e-3)(4.65,6.2e-3)(4.8,5.4e-3)(4.95,4.8e-3)(5.1,4.2e-3)(5.25,3.6e-3)(5.4,3.1e-3)(5.55,2.8e-3)(5.66,2.6e-3)(5.72,1.7e-3)(5.9,1.6e-3)(6.05,1.45e-3)(6.15,1.4e-3)(6.25,1.3e-3)};
\addplot[cblu, line width=0.9pt, mark=*, mark size=1pt] coordinates {(0.031,0.0055)(0.15,0.0052)(0.3,0.005)(0.45,0.0057)(0.6,0.0068)(0.75,0.0085)(0.9,0.011)(1.05,0.015)(1.2,0.02)(1.35,0.025)(1.5,0.028)(1.65,0.031)(1.8,0.034)(1.95,0.04)(2.1,0.05)(2.25,0.068)(2.4,0.11)(2.55,0.18)(2.7,0.28)(2.85,0.4)(3.0,0.5)(3.14,0.54)(3.28,0.5)(3.43,0.4)(3.58,0.28)(3.73,0.18)(3.88,0.11)(4.03,0.068)(4.18,0.05)(4.33,0.04)(4.48,0.034)(4.63,0.031)(4.78,0.028)(4.93,0.025)(5.08,0.02)(5.23,0.015)(5.38,0.011)(5.53,0.0085)(5.68,0.0068)(5.83,0.0057)(5.98,0.005)(6.13,0.0052)(6.252,0.005)};
\addplot[corg, line width=0.9pt, mark=o, mark size=0.9pt] coordinates {(0.031,0.26)(0.15,0.265)(0.25,0.28)(0.35,0.3)(0.45,0.34)(0.55,0.39)(0.63,0.43)(0.75,0.42)(1.0,0.41)(1.25,0.405)(1.5,0.4)(1.75,0.39)(2.0,0.385)(2.25,0.38)(2.5,0.375)(2.75,0.365)(3.0,0.355)(3.14,0.35)(3.28,0.355)(3.53,0.365)(3.78,0.375)(4.03,0.38)(4.28,0.385)(4.53,0.39)(4.78,0.4)(5.03,0.405)(5.28,0.41)(5.53,0.42)(5.65,0.43)(5.73,0.39)(5.83,0.34)(5.93,0.3)(6.03,0.28)(6.13,0.265)(6.252,0.26)};
\addplot[cmag, line width=0.9pt, mark=square*, mark size=0.9pt] coordinates {(0.031,3.0)(0.094,1.9)(0.157,1.35)(0.22,1.05)(0.283,0.88)(0.35,0.76)(0.45,0.65)(0.55,0.57)(0.65,0.52)(0.75,0.49)(0.85,0.47)(1.0,0.45)(1.2,0.44)(1.4,0.43)(1.6,0.43)(1.8,0.44)(2.0,0.46)(2.2,0.5)(2.4,0.55)(2.6,0.63)(2.75,0.72)(2.9,0.84)(3.0,0.93)(3.1,0.99)(3.18,1.0)(3.28,0.95)(3.38,0.86)(3.53,0.72)(3.68,0.63)(3.88,0.55)(4.08,0.5)(4.28,0.46)(4.48,0.44)(4.68,0.43)(4.88,0.43)(5.08,0.44)(5.28,0.45)(5.43,0.47)(5.53,0.49)(5.63,0.52)(5.73,0.57)(5.83,0.65)(5.93,0.76)(6.0,0.88)(6.063,1.05)(6.126,1.35)(6.189,1.9)(6.252,3.0)};
\addplot[csbp, line width=0.9pt, const plot mark mid, mark=triangle, mark size=1pt] coordinates {(0.031,0.045)(0.094,0.046)(0.157,0.048)(0.22,0.05)(0.283,0.055)(0.346,0.065)(0.408,0.1)(0.471,0.13)(0.534,0.12)(0.597,0.023)(0.66,1e-5)(5.623,1e-5)(5.686,0.023)(5.749,0.12)(5.812,0.13)(5.875,0.1)(5.937,0.065)(6.0,0.055)(6.063,0.05)(6.126,0.048)(6.189,0.046)(6.252,0.045)};
\addplot[csbr, line width=0.9pt, const plot mark mid, mark=square, mark size=0.9pt] coordinates {(0.031,0.06)(0.094,0.06)(0.157,0.062)(0.22,0.065)(0.283,0.07)(0.346,0.1)(0.408,0.15)(0.471,0.038)(0.534,1e-5)(5.749,1e-5)(5.812,0.038)(5.875,0.15)(5.937,0.1)(6.0,0.07)(6.063,0.065)(6.126,0.062)(6.189,0.06)(6.252,0.06)};
\addplot[cblu, line width=0.9pt, const plot mark mid, mark=square*, mark size=1pt] coordinates {(0.031,2.7)(0.094,1.5)(0.157,0.9)(0.22,0.55)(0.283,0.34)(0.346,0.22)(0.408,0.13)(0.471,1e-5)(5.812,1e-5)(5.875,0.13)(5.937,0.22)(6.0,0.34)(6.063,0.55)(6.126,0.9)(6.189,1.5)(6.252,2.7)};
\end{axis}

% ---------- Panel 7 ----------
\begin{axis}[rt, at={(33pt,14pt)}, width=184pt, height=112pt,
  xmin=0, xmax=120, ymin=0, ymax=10,
  xtick={0,20,...,120}, ytick={0,1,...,10}, minor x tick num=4, minor y tick num=1,
  tick label style={font=\fontsize{6}{6.5}\selectfont\bfseries},
  xticklabel style={xscale=1.4}, yticklabel style={xscale=1.25},
  xlabel={N\textsubscript{UE/CDF}}, xlabel style={yshift=-4.5pt, font=\fontsize{5.5}{6}\selectfont\bfseries},
  ylabel={\hs{0.85}{<p\textsubscript{T}>\textsubscript{i} [GeV/c]}}, ylabel style={at={(rel axis cs:-0.092,1)}, font=\fontsize{7}{7.5}\selectfont\bfseries},
  legend image code/.code={\draw[mark repeat=2,mark phase=2,#1,sharp plot,line width=0.8pt] plot coordinates {(0pt,0pt) (8.75pt,0pt) (17.5pt,0pt)};},
  legend style={at={(rel axis cs:0.13,0.987)}, anchor=north west, font=\fontsize{7.3}{7.5}\selectfont\bfseries, draw=black, fill=white, inner xsep=3pt, inner ysep=1.2pt, row sep=0.5pt, nodes={inner ysep=0.4pt}, /tikz/every odd column/.append style={column sep=3pt}}]
\addplot[cblu, only marks, mark=square*, mark size=1.3pt, error bars/.cd, y dir=both, y explicit, error mark=none, error bar style={cblu,line width=0.6pt}] table[x=x,y=lj,y error=elj]{\Pseven};
\addlegendentry{\makebox[71pt][l]{leading jet}}
\addplot[cblu, only marks, mark=*, mark size=1.2pt, error bars/.cd, y dir=both, y explicit, error mark=none, error bar style={cblu,line width=0.6pt}] table[x=x,y=tw,y error=etw]{\Pseven};
\addlegendentry{towards}
\addplot[cgrn, only marks, mark=*, mark size=1.2pt] table[x=x,y=gr]{\Pseven};
\addlegendentry{towards w/o jet}
\addplot[cpur, only marks, mark=*, mark size=1.2pt] table[x=x,y=aw]{\Pseven};
\addlegendentry{away region (CDF)}
\addplot[cpnk, only marks, mark=*, mark size=1.2pt] table[x=x,y=tr]{\Pseven};
\addlegendentry{transverse}
\end{axis}

% ---------- Panel 8 ----------
\begin{axis}[rt, at={(259.5pt,14pt)}, width=184pt, height=112pt,
  xmin=0, xmax=120, ymin=0, ymax=10,
  xtick={0,20,...,120}, ytick={0,1,...,10}, minor x tick num=4, minor y tick num=1,
  tick label style={font=\fontsize{6}{6.5}\selectfont\bfseries},
  xticklabel style={xscale=1.3}, yticklabel style={xscale=1.25},
  xlabel={N\textsubscript{UE2}}, xlabel style={yshift=-4.5pt, font=\fontsize{5.5}{6}\selectfont\bfseries},
  ylabel={\hs{0.85}{<p\textsubscript{T}>\textsubscript{i} [GeV/c]}}, ylabel style={at={(rel axis cs:-0.084,1)}, font=\fontsize{7}{7.5}\selectfont\bfseries},
  legend image code/.code={\draw[mark repeat=2,mark phase=2,#1,sharp plot,line width=0.8pt] plot coordinates {(0pt,0pt) (8.75pt,0pt) (17.5pt,0pt)};},
  legend style={at={(rel axis cs:0.13,0.987)}, anchor=north west, font=\fontsize{5.4}{5.4}\selectfont\bfseries, draw=black, fill=white, inner xsep=3pt, inner ysep=0.8pt, row sep=0pt, nodes={inner ysep=0.2pt}, /tikz/every odd column/.append style={column sep=2.5pt}}]
\addplot[cblu, only marks, mark=square*, mark size=1.3pt, error bars/.cd, y dir=both, y explicit, error mark=none, error bar style={cblu,line width=0.6pt}] table[x=x,y=lj,y error=elj]{\Peight};
\addlegendentry{\makebox[72pt][l]{\hs{1.25}{leading jet}}}
\addplot[cblu, only marks, mark=*, mark size=1.2pt, error bars/.cd, y dir=both, y explicit, error mark=none, error bar style={cblu,line width=0.6pt}] table[x=x,y=aj,y error=eaj]{\Peight};
\addlegendentry{\hs{1.25}{away jet}}
\addplot[csbr, only marks, mark=square, mark size=1.3pt] table[x=x,y=sa]{\PeightSB};
\addlegendentry{\hs{1.25}{SB\textsubscript{lead,1}}}
\addplot[csbp, only marks, mark=triangle, mark size=1.4pt] table[x=x,y=sb]{\PeightSB};
\addlegendentry{\hs{1.25}{SB\textsubscript{lead,2}}}
\addplot[csbr, only marks, mark=o, mark size=1.3pt] table[x=x,y=sc]{\PeightSB};
\addlegendentry{\hs{1.25}{SB\textsubscript{away,1}}}
\addplot[csbp, only marks, mark=diamond, mark size=1.2pt] table[x=x,y=sd]{\PeightSB};
\addlegendentry{\hs{1.25}{SB\textsubscript{away,2}}}
\addplot[corg, only marks, mark=o, mark size=1.3pt] table[x=x,y=ue]{\PeightSB};
\addlegendentry{\hs{1.25}{UE\textsubscript{2}}}
\addplot[corg, only marks, mark=o, mark size=1.3pt, forget plot, error bars/.cd, y dir=both, y explicit, error mark=none, error bar style={corg,line width=0.6pt}] coordinates {(118.5,2.3) +- (0,1.4)};
\addplot[csbp, only marks, mark=diamond, mark size=1.2pt, forget plot, error bars/.cd, y dir=both, y explicit, error mark=none, error bar style={csbp,line width=0.6pt}] coordinates {(103,1.5) +- (0,0.7) (9.5,1.4) +- (0,0.6)};
\end{axis}
\end{tikzpicture}
\end{document}
